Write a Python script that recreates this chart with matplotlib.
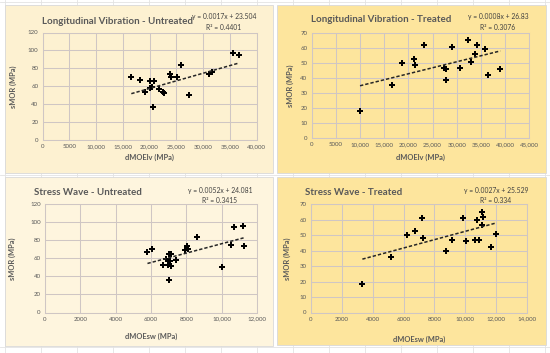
import matplotlib
matplotlib.use('Agg')
import matplotlib.pyplot as plt
from matplotlib.lines import Line2D
from matplotlib.patches import Rectangle

plt.rcParams['font.family'] = ['Lato', 'DejaVu Sans']

W, H = 550, 353

### data
lv_untr_x = [16600, 18200, 19150, 20000, 20130, 20550, 20730, 20920, 21830, 22570,
             22750, 23790, 23970, 25190, 25800, 27450, 31120, 31610, 35600, 36750]
lv_untr_y = [70.8, 67.5, 53.3, 58.1, 65.4, 59.2, 37.0, 65.4, 57.4, 53.3,
             52.2, 73.4, 70.2, 70.5, 83.3, 50.1, 73.4, 76.0, 97.0, 95.0]

lv_tr_x = [9990, 16670, 18670, 21160, 21360, 23160, 27360, 27850, 27780, 29080,
           30670, 32260, 32940, 33700, 34190, 35840, 36460, 39000]
lv_tr_y = [18.0, 35.3, 50.2, 52.5, 48.5, 61.8, 47.0, 46.0, 39.0, 61.0,
           47.0, 65.3, 51.0, 56.0, 62.0, 59.2, 41.7, 45.8]

sw_untr_x = [5800, 6070, 6660, 6870, 6940, 7000, 7150, 7100, 7040, 7150,
             7430, 7940, 8030, 8090, 8600, 10020, 10520, 10690, 11210, 11240]
sw_untr_y = [67.4, 70.7, 52.3, 59.3, 52.3, 64.8, 64.8, 56.7, 36.3, 51.2,
             57.8, 69.6, 74.0, 70.3, 83.1, 49.8, 75.0, 94.1, 96.0, 73.2]

sw_tr_x = [3330, 5190, 6240, 6760, 7220, 7240, 8740, 9150, 9830, 10040,
           10620, 10730, 10880, 11070, 11130, 11090, 11650, 11970]
sw_tr_y = [18.4, 35.6, 50.1, 52.7, 61.3, 48.3, 39.5, 47.1, 61.1, 46.0,
           47.1, 59.8, 46.8, 65.2, 61.9, 56.6, 42.5, 51.1]

titles = ['Longitudinal Vibration - Untreated', 'Longitudinal Vibration - Treated',
          'Stress Wave - Untreated', 'Stress Wave - Treated']
slopes = [0.0017, 0.0008, 0.0052, 0.0027]
intercepts = [23.504, 26.83, 24.081, 25.529]
eq_texts = ['y = 0.0017x + 23.504', 'y = 0.0008x + 26.83',
            'y = 0.0052x + 24.081', 'y = 0.0027x + 25.529']
r2_texts = ['R² = 0.4401', 'R² = 0.3076', 'R² = 0.3415', 'R² = 0.334']
xlabels = ['dMOElv (MPa)', 'dMOElv (MPa)', 'dMOEsw (MPa)', 'dMOEsw (MPa)']

lv_ticks_40 = [0, 5000, 10000, 15000, 20000, 25000, 30000, 35000, 40000]
lv_ticks_45 = lv_ticks_40 + [45000]
sw_ticks_12 = [0, 2000, 4000, 6000, 8000, 10000, 12000]
sw_ticks_14 = sw_ticks_12 + [14000]
y_ticks_120 = [0, 20, 40, 60, 80, 100, 120]
y_ticks_70 = [0, 10, 20, 30, 40, 50, 60, 70]


def fmt(v):
    # Excel shows 4 digit numbers without the comma
    if v < 10000:
        return str(v)
    return '{:,}'.format(v)


def frac(l, t, r, b):
    return [l / W, 1 - b / H, (r - l) / W, (b - t) / H]


fig = plt.figure(figsize=(W / 100, H / 100), dpi=100)
fig.patch.set_facecolor('white')

# spreadsheet cell lines behind the charts
for k in range(16):
    xx = (4.7 + 36 * k) / W
    fig.add_artist(Line2D([xx, xx], [0, 1], color='#E3E3E3', lw=0.6, zorder=0))
for yy in [2, 175, 347]:
    fig.add_artist(Line2D([0, 1], [1 - yy / H, 1 - yy / H], color='#E3E3E3', lw=0.6, zorder=0))

panels = [
    # panel box, plot box, face, data, ticks, text positions (pixels)
    dict(box=(5, 5, 273, 173), plot=(42.5, 32.5, 256.5, 140), face='#FDF1D1',
         x=lv_untr_x, y=lv_untr_y, xt=lv_ticks_40, yt=y_ticks_120,
         tx=118, ty=21.5, ex=224, ey=17, xl_y=157, yl_x=13),
    dict(box=(277, 5, 546, 173), plot=(311.7, 33, 529.3, 138), face='#FDE59D',
         x=lv_tr_x, y=lv_tr_y, xt=lv_ticks_45, yt=y_ticks_70,
         tx=381, ty=20, ex=498, ey=17, xl_y=157, yl_x=290),
    dict(box=(5, 177, 273, 346), plot=(45, 204, 257, 312.5), face='#FEF5DE',
         x=sw_untr_x, y=sw_untr_y, xt=sw_ticks_12, yt=y_ticks_120,
         tx=88, ty=192, ex=220, ey=191, xl_y=336, yl_x=12),
    dict(box=(277, 177, 546, 345), plot=(311, 204.3, 527, 312.5), face='#FDE59D',
         x=sw_tr_x, y=sw_tr_y, xt=sw_ticks_14, yt=y_ticks_70,
         tx=354, ty=192, ex=496, ey=191, xl_y=339, yl_x=287),
]

for i, p in enumerate(panels):
    l, t, r, b = p['box']
    fig.add_artist(Rectangle((l / W, 1 - b / H), (r - l) / W, (b - t) / H,
                             transform=fig.transFigure, facecolor=p['face'],
                             edgecolor='#D9D9D9', lw=0.6, zorder=1))

    ax = fig.add_axes(frac(*p['plot']))
    ax.set_facecolor('none')
    ax.set_zorder(2)
    ax.set_xlim(p['xt'][0], p['xt'][-1])
    ax.set_ylim(p['yt'][0], p['yt'][-1])
    ax.set_xticks(p['xt'])
    ax.set_xticklabels([fmt(v) for v in p['xt']])
    ax.set_yticks(p['yt'])
    ax.grid(True, color='#CFC6C4', lw=0.75)
    ax.set_axisbelow(True)
    for s in ax.spines.values():
        s.set_color('#CFC6C4')
        s.set_linewidth(0.75)
    ax.tick_params(length=0, labelsize=4.4, colors='#595959', pad=3)

    ax.plot(p['x'], p['y'], 'P', color='black', markersize=4.3, markeredgewidth=0)
    x0, x1 = min(p['x']), max(p['x'])
    ax.plot([x0, x1], [slopes[i] * x0 + intercepts[i], slopes[i] * x1 + intercepts[i]],
            color='#262626', lw=1.1, linestyle=(0, (2.2, 1.3)))

    cx = (p['plot'][0] + p['plot'][2]) / 2
    cy = (p['plot'][1] + p['plot'][3]) / 2
    fig.text(p['tx'] / W, 1 - p['ty'] / H, titles[i], ha='center', va='center',
             fontsize=7.0, fontweight='bold', color='#595959')
    fig.text(p['ex'] / W, 1 - p['ey'] / H, eq_texts[i], ha='center', va='center',
             fontsize=4.9, color='#404040')
    fig.text(p['ex'] / W, 1 - (p['ey'] + 10) / H, r2_texts[i], ha='center', va='center',
             fontsize=4.9, color='#404040')
    fig.text(cx / W, 1 - p['xl_y'] / H, xlabels[i], ha='center', va='center',
             fontsize=5.4, fontweight='bold', color='#595959')
    fig.text(p['yl_x'] / W, 1 - cy / H, 'sMOR (MPa)', ha='center', va='center',
             rotation=90, fontsize=5.4, fontweight='bold', color='#595959')

fig.savefig('out.png', dpi=100)
